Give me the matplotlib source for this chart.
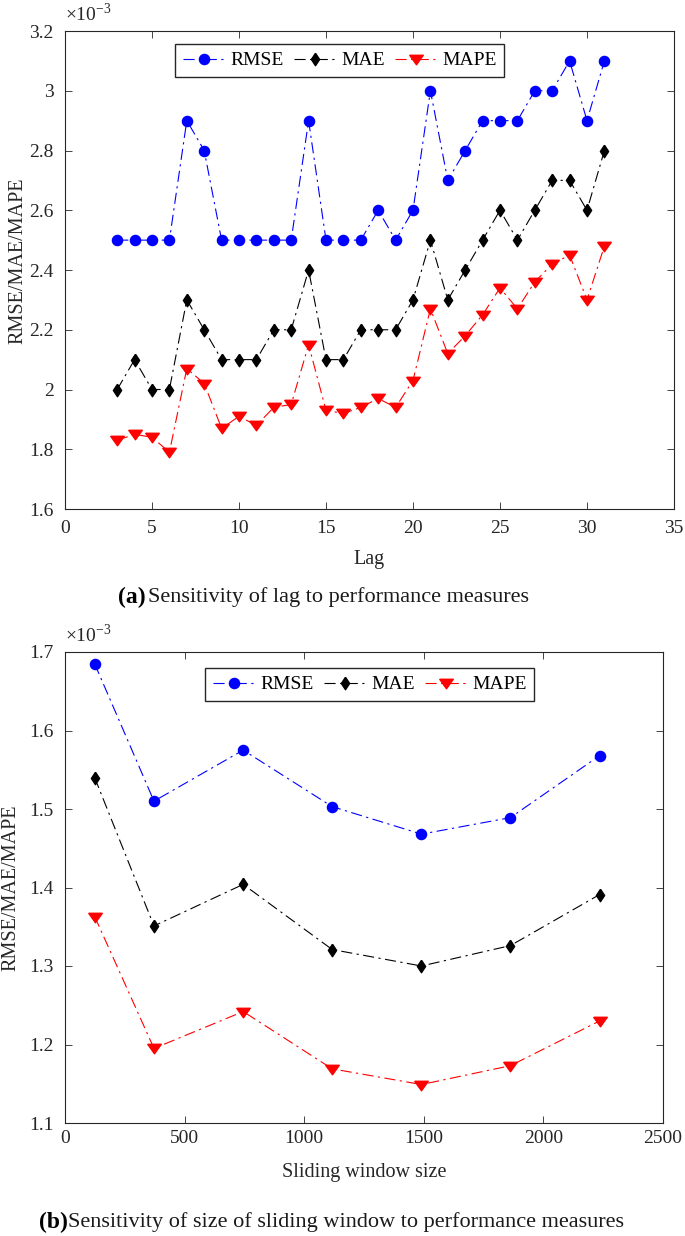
import matplotlib.pyplot as plt
import numpy as np

plt.rcParams['font.family'] = ['Liberation Serif', 'DejaVu Serif']
plt.rcParams['mathtext.fontset'] = 'custom'
plt.rcParams['mathtext.rm'] = 'Liberation Serif'

# (a) lag sensitivity, values in 1e-3
lag = list(range(3, 32))
rmse_a = [2.5, 2.5, 2.5, 2.5, 2.9, 2.8, 2.5, 2.5, 2.5, 2.5, 2.5, 2.9, 2.5, 2.5, 2.5,
          2.6, 2.5, 2.6, 3.0, 2.7, 2.8, 2.9, 2.9, 2.9, 3.0, 3.0, 3.1, 2.9, 3.1]
mae_a = [2.0, 2.1, 2.0, 2.0, 2.3, 2.2, 2.1, 2.1, 2.1, 2.2, 2.2, 2.4, 2.1, 2.1, 2.2,
         2.2, 2.2, 2.3, 2.5, 2.3, 2.4, 2.5, 2.6, 2.5, 2.6, 2.7, 2.7, 2.6, 2.8]
mape_a = [1.83, 1.85, 1.84, 1.79, 2.07, 2.02, 1.87, 1.91, 1.88, 1.94, 1.95, 2.15, 1.93, 1.92, 1.94,
          1.97, 1.94, 2.03, 2.27, 2.12, 2.18, 2.25, 2.34, 2.27, 2.36, 2.42, 2.45, 2.30, 2.48]

# (b) sliding window sensitivity, values in 1e-3
window = [124, 372, 745, 1117, 1490, 1862, 2235]
rmse_b = [1.685, 1.510, 1.575, 1.503, 1.468, 1.489, 1.568]
mae_b = [1.540, 1.351, 1.404, 1.321, 1.300, 1.326, 1.391]
mape_b = [1.363, 1.195, 1.242, 1.169, 1.149, 1.173, 1.230]

W, H = 685, 1236
fig = plt.figure(figsize=(W / 100, H / 100), dpi=100)


def box(l, r, t, b):
    return [l / W, 1 - b / H, (r - l) / W, (b - t) / H]


ax1 = fig.add_axes(box(65, 674, 31, 509))
ax2 = fig.add_axes(box(65, 663, 652, 1123))

diamond = [(0, 1), (0.66, 0), (0, -1), (-0.66, 0), (0, 1)]
tri_down = [(-1, 0.62), (1, 0.62), (0, -0.78), (-1, 0.62)]
dashdot = (0, (10, 4, 2, 4))
edge = '#262626'


def draw(ax, x, r, m, p):
    ax.plot(x, r, ls=dashdot, color='blue', lw=0.8, marker='o', ms=7.3, label='RMSE')
    ax.plot(x, m, ls=dashdot, color='black', lw=0.8, marker=diamond, ms=9, label='MAE')
    ax.plot(x, p, ls=dashdot, color='red', lw=0.8, marker=tri_down, ms=9.8, label='MAPE')
    ax.tick_params(direction='in', top=True, right=True, labelsize=14, length=5,
                   width=0.6, color=edge, labelcolor=edge, pad=8)
    for s in ax.spines.values():
        s.set_linewidth(0.8)
        s.set_color(edge)
    ax.text(0.0, 1.012, r'$\times 10^{-3}$', transform=ax.transAxes, fontsize=14,
            va='bottom', ha='left', color=edge)
    ax.set_ylabel('RMSE/MAE/MAPE', fontsize=14.5, color=edge)


def legend(ax, x0, y0):
    ax.legend(ncol=3, loc='upper left', bbox_to_anchor=(x0 / W, 1 - y0 / H),
              bbox_transform=fig.transFigure, fontsize=14, fancybox=False,
              edgecolor=edge, framealpha=1, handlelength=2.2, handletextpad=0.25,
              columnspacing=0.5, borderpad=0.4, borderaxespad=0)


draw(ax1, lag, rmse_a, mae_a, mape_a)
ax1.set_xlim(0, 35)
ax1.set_ylim(1.6, 3.2)
ax1.set_xticks(np.arange(0, 36, 5))
yt = [1.6, 1.8, 2.0, 2.2, 2.4, 2.6, 2.8, 3.0, 3.2]
ax1.set_yticks(yt)
ax1.set_yticklabels([('%g' % v) for v in yt])
ax1.set_xlabel('Lag', fontsize=14.5, color=edge)
ax1.xaxis.set_label_coords(0.5, -0.086)
ax1.yaxis.set_label_coords(-0.061, 0.52)
legend(ax1, 175, 44)

draw(ax2, window, rmse_b, mae_b, mape_b)
ax2.set_xlim(0, 2500)
ax2.set_ylim(1.1, 1.7)
ax2.set_xticks(np.arange(0, 2501, 500))
ax2.set_yticks(np.arange(1.1, 1.71, 0.1))
ax2.set_yticklabels(['1.1', '1.2', '1.3', '1.4', '1.5', '1.6', '1.7'])
ax2.tick_params(axis='x', pad=5)
ax2.set_xlabel('Sliding window size', fontsize=14.5, color=edge)
ax2.xaxis.set_label_coords(0.5, -0.085)
ax2.yaxis.set_label_coords(-0.075, 0.5)
legend(ax2, 205, 668)

fig.text(118 / W, 1 - 597 / H, '(a)', fontsize=17, fontweight='bold', ha='left', va='center')
fig.text(148 / W, 1 - 597 / H, 'Sensitivity of lag to performance measures',
         fontsize=16, ha='left', va='center', color='#1a1a1a')
fig.text(39 / W, 1 - 1222 / H, '(b)', fontsize=17, fontweight='bold', ha='left', va='center')
fig.text(68 / W, 1 - 1222 / H, 'Sensitivity of size of sliding window to performance measures',
         fontsize=16, ha='left', va='center', color='#1a1a1a')

fig.savefig('out.png', dpi=100)
